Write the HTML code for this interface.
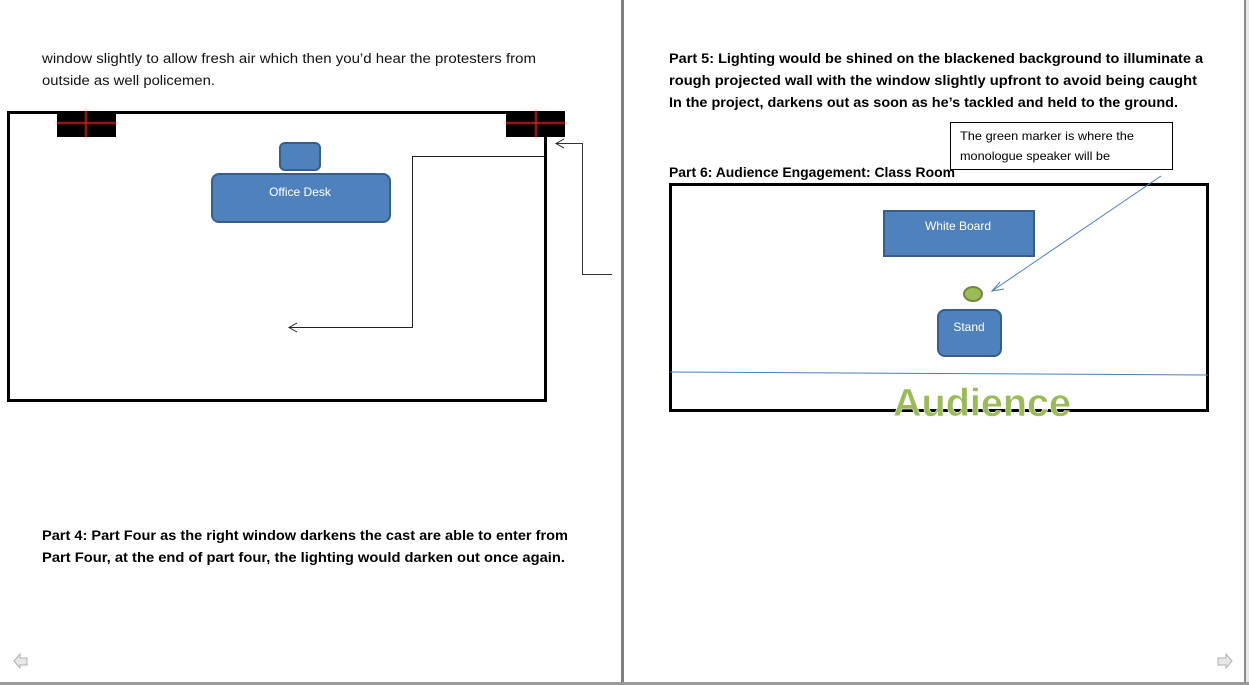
<!DOCTYPE html>
<html><head><meta charset="utf-8"><style>
html,body{margin:0;padding:0;background:#fff;}
svg{display:block;}
text{font-family:"Liberation Sans",sans-serif;}
</style></head><body>
<svg width="1249" height="685" viewBox="0 0 1249 685" xmlns="http://www.w3.org/2000/svg">
<defs>
<filter id="glow" x="-20%" y="-50%" width="140%" height="200%"><feGaussianBlur stdDeviation="1"/></filter>
</defs>
<rect width="1249" height="685" fill="#fff"/>
<!-- page borders -->
<rect x="620" y="0" width="6" height="685" fill="#fff"/>
<rect x="621" y="0" width="3" height="685" fill="#7f7f7f"/>
<rect x="1244" y="0" width="5" height="685" fill="#e8e8e8"/>
<rect x="1244" y="0" width="2" height="685" fill="#8a8a8a"/>
<rect x="0" y="682" width="1249" height="3" fill="#9a9a9a"/>

<!-- left page text -->
<text x="42" y="63" font-size="13.5" fill="#111" textLength="494" lengthAdjust="spacingAndGlyphs">window slightly to allow fresh air which then you’d hear the protesters from</text>
<text x="42" y="85" font-size="13.5" fill="#111" textLength="173" lengthAdjust="spacingAndGlyphs">outside as well policemen.</text>

<!-- left room -->
<rect x="8.5" y="112.5" width="537" height="288" fill="none" stroke="#000" stroke-width="3"/>
<rect x="57" y="111" width="59" height="26" fill="#000"/>
<rect x="506" y="111" width="59" height="26" fill="#000"/>
<g stroke="#ff3030" stroke-width="2" opacity="0.5" filter="url(#glow)">
<line x1="56" y1="123" x2="117" y2="123"/><line x1="86" y1="110" x2="86" y2="138"/>
<line x1="505" y1="123" x2="566" y2="123"/><line x1="536" y1="110" x2="536" y2="138"/>
</g>
<g stroke="#e02020" stroke-width="1">
<line x1="57" y1="123" x2="116" y2="123"/><line x1="86" y1="111" x2="86" y2="137"/>
<line x1="506" y1="123" x2="565" y2="123"/><line x1="536" y1="111" x2="536" y2="137"/>
</g>
<rect x="280" y="143" width="40" height="27" rx="5" fill="#4f81bd" stroke="#385d8a" stroke-width="2"/>
<rect x="212" y="174" width="178" height="48" rx="7" fill="#4f81bd" stroke="#385d8a" stroke-width="2"/>
<text x="300" y="196" font-size="12" fill="#fff" text-anchor="middle">Office Desk</text>
<polyline points="545,156.5 412.5,156.5 412.5,327.5 289,327.5" fill="none" stroke="#222" stroke-width="1"/>
<polyline points="297,323 289,327.5 297,332" fill="none" stroke="#222" stroke-width="1"/>
<polyline points="612,274.5 582.5,274.5 582.5,143.5 556,143.5" fill="none" stroke="#333" stroke-width="1"/>
<polyline points="564,139 556,143.5 564,148" fill="none" stroke="#222" stroke-width="1"/>

<text x="42" y="540" font-size="13.5" font-weight="bold" fill="#000" textLength="526" lengthAdjust="spacingAndGlyphs">Part 4: Part Four as the right window darkens the cast are able to enter from</text>
<text x="42" y="562" font-size="13.5" font-weight="bold" fill="#000" textLength="523" lengthAdjust="spacingAndGlyphs">Part Four, at the end of part four, the lighting would darken out once again.</text>

<!-- right page text -->
<text x="669" y="63" font-size="13.5" font-weight="bold" fill="#000" textLength="534" lengthAdjust="spacingAndGlyphs">Part 5: Lighting would be shined on the blackened background to illuminate a</text>
<text x="669" y="85" font-size="13.5" font-weight="bold" fill="#000" textLength="528" lengthAdjust="spacingAndGlyphs">rough projected wall with the window slightly upfront to avoid being caught</text>
<text x="669" y="107" font-size="13.5" font-weight="bold" fill="#000" textLength="509" lengthAdjust="spacingAndGlyphs">In the project, darkens out as soon as he’s tackled and held to the ground.</text>
<text x="669" y="177" font-size="13.5" font-weight="bold" fill="#000" textLength="286" lengthAdjust="spacingAndGlyphs">Part 6: Audience Engagement: Class Room</text>

<rect x="950.5" y="122.5" width="222" height="47" fill="#fff" stroke="#000" stroke-width="1"/>
<text x="960" y="140" font-size="12" fill="#000" textLength="174" lengthAdjust="spacingAndGlyphs">The green marker is where the</text>
<text x="960" y="160" font-size="12" fill="#000" textLength="150" lengthAdjust="spacingAndGlyphs">monologue speaker will be</text>

<rect x="670.5" y="184.5" width="537" height="226" fill="none" stroke="#000" stroke-width="3"/>
<rect x="884" y="211" width="150" height="45" fill="#4f81bd" stroke="#385d8a" stroke-width="2"/>
<text x="958" y="230" font-size="12" fill="#fff" text-anchor="middle">White Board</text>
<ellipse cx="973" cy="294" rx="9" ry="7" fill="#9bbb59" stroke="#71893f" stroke-width="2"/>
<rect x="938" y="310" width="63" height="46" rx="7" fill="#4f81bd" stroke="#385d8a" stroke-width="2"/>
<text x="969" y="331" font-size="12" fill="#fff" text-anchor="middle">Stand</text>
<line x1="670" y1="372" x2="1208" y2="375" stroke="#4a7ebb" stroke-width="1"/>
<line x1="1161" y1="176" x2="992" y2="291" stroke="#4a7ebb" stroke-width="1"/>
<polyline points="1000,282 992,291 1004,289" fill="none" stroke="#4a7ebb" stroke-width="1"/>
<text x="982" y="416" font-size="39" font-weight="bold" fill="#9bbb59" stroke="#ffffff" stroke-width="0.5" text-anchor="middle" textLength="178" lengthAdjust="spacingAndGlyphs">Audience</text>

<!-- nav arrows -->
<polygon points="14,661 20,654 20,658 27,658 27,665 20,665 20,668" fill="#e8e8e8" stroke="#b0b0b0" stroke-width="1"/>
<polygon points="1232,661 1226,654 1226,658 1218,658 1218,665 1226,665 1226,668" fill="#e8e8e8" stroke="#b0b0b0" stroke-width="1"/>
</svg>
</body></html>
